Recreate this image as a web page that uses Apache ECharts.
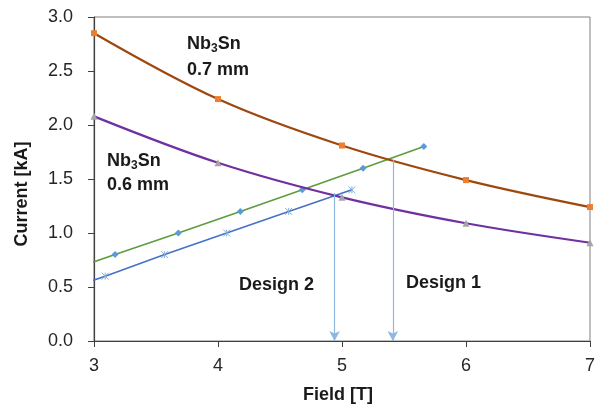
<!DOCTYPE html>
<html><head><meta charset="utf-8">
<script src="https://cdn.jsdelivr.net/npm/echarts@6/dist/echarts.min.js"></script>
<style>html,body{margin:0;padding:0;background:#fff}#c{width:598px;height:407px}</style>
</head><body><div id="c"></div>
<script>
// Field [T] sample points for the conductor curves
const fieldPts = [3, 4, 5, 6, 7];
const nb07 = [2.85, 2.24, 1.81, 1.49, 1.24];   // Nb3Sn 0.7 mm
const nb06 = [2.08, 1.65, 1.33, 1.09, 0.91];   // Nb3Sn 0.6 mm
// Load line 1 (green)
const load1X = [2.66, 3.17, 3.68, 4.18, 4.68, 5.17, 5.66];
const load1Y = [0.60, 0.80, 1.00, 1.20, 1.40, 1.60, 1.80];
// Load line 2 (blue)
const load2X = [2.59, 3.09, 3.57, 4.07, 4.57, 5.08];
const load2Y = [0.40, 0.60, 0.80, 1.00, 1.20, 1.40];
// Design operating points
const design1 = [5.41, 1.68];
const design2 = [4.94, 1.37];
const xTicks = [3, 4, 5, 6, 7];
const yTicks = [0, 0.5, 1.0, 1.5, 2.0, 2.5, 3.0];

const zip = (xs, ys) => xs.map((x, i) => [x, ys[i]]);
const FONT = 'Liberation Sans';
const chart = echarts.init(document.getElementById('c'));
chart.setOption({
  animation: false,
  textStyle: { fontFamily: FONT },
  grid: { left: 94, right: 8, top: 17, bottom: 66, show: true, borderColor: '#7f7f7f', borderWidth: 1, containLabel: false, outerBoundsMode: 'none' },
  xAxis: {
    type: 'value', min: xTicks[0], max: xTicks[xTicks.length - 1], interval: 1,
    name: 'Field [T]', nameLocation: 'middle', nameGap: 45,
    nameTextStyle: { fontSize: 18, fontWeight: 'bold', color: '#1a1a1a', fontFamily: FONT, padding: [0, 8, 0, 0] },
    axisLine: { lineStyle: { color: '#404040', width: 1.2 } },
    axisTick: { show: true, inside: false, length: 6, lineStyle: { color: '#404040' } },
    axisLabel: { fontSize: 18, color: '#262626', margin: 16, fontFamily: FONT },
    splitLine: { show: false }
  },
  yAxis: {
    type: 'value', min: yTicks[0], max: yTicks[yTicks.length - 1], interval: 0.5,
    name: 'Current [kA]', nameLocation: 'middle', nameGap: 63, nameRotate: 90,
    nameTextStyle: { fontSize: 18, fontWeight: 'bold', color: '#1a1a1a', fontFamily: FONT, padding: [0, 30, 0, 0] },
    axisLine: { show: true, lineStyle: { color: '#404040', width: 1.2 } },
    axisTick: { show: true, inside: false, length: 6, lineStyle: { color: '#404040' } },
    axisLabel: { fontSize: 18, color: '#262626', margin: 21, fontFamily: FONT, formatter: v => v.toFixed(1) },
    splitLine: { show: false }
  },
  series: [
    {
      type: 'line', data: zip(fieldPts, nb07), smooth: 0.35, clip: true,
      lineStyle: { color: '#9E480E', width: 2.2 },
      symbol: 'rect', symbolSize: 6, itemStyle: { color: '#ED7D31' }, z: 3
    },
    {
      type: 'line', data: zip(fieldPts, nb06), smooth: 0.35, clip: true,
      lineStyle: { color: '#7030A0', width: 2.2 },
      symbol: 'triangle', symbolSize: 7, itemStyle: { color: '#A5A5A5' }, z: 3
    },
    {
      type: 'line', data: zip(load1X, load1Y), clip: true,
      lineStyle: { color: '#5E9C3C', width: 1.6 },
      symbol: 'diamond', symbolSize: 7, itemStyle: { color: '#5B9BD5' }, z: 2
    },
    {
      type: 'line', data: zip(load2X, load2Y), clip: true,
      lineStyle: { color: '#4472C4', width: 1.6 },
      symbol: 'path://M0,0L10,10M10,0L0,10M5,0L5,10', symbolSize: 7,
      itemStyle: { color: 'none', borderColor: '#7FB0E0', borderWidth: 1 }, z: 2,
      markLine: {
        silent: true, symbol: ['none', 'arrow'], symbolSize: [8, 10],
        lineStyle: { color: '#8DB8E2', width: 1.2, type: 'solid' },
        label: { show: false },
        data: [
          [{ coord: [design1[0], design1[1]] }, { coord: [design1[0], 0] }],
          [{ coord: [design2[0], design2[1]] }, { coord: [design2[0], 0] }]
        ]
      }
    }
  ],
  graphic: [
    { type: 'text', left: 187, top: 33, style: { text: '{a|Nb}{s|3}{a|Sn}\n{a|0.7 mm}', rich: { a: { fontSize: 18, fontWeight: 'bold', fill: '#1a1a1a', fontFamily: FONT, lineHeight: 26 }, s: { fontSize: 12, fontWeight: 'bold', fill: '#1a1a1a', fontFamily: FONT, padding: [10, 0, 0, 0], lineHeight: 26 } } } },
    { type: 'text', left: 107, top: 150, style: { text: '{a|Nb}{s|3}{a|Sn}\n{a|0.6 mm}', rich: { a: { fontSize: 18, fontWeight: 'bold', fill: '#1a1a1a', fontFamily: FONT, lineHeight: 24 }, s: { fontSize: 12, fontWeight: 'bold', fill: '#1a1a1a', fontFamily: FONT, padding: [10, 0, 0, 0], lineHeight: 24 } } } },
    { type: 'text', left: 239, top: 276, style: { text: 'Design 2', fontSize: 18, fontWeight: 'bold', fill: '#1a1a1a', fontFamily: FONT } },
    { type: 'text', left: 406, top: 274, style: { text: 'Design 1', fontSize: 18, fontWeight: 'bold', fill: '#1a1a1a', fontFamily: FONT } }
  ]
});
</script></body></html>
